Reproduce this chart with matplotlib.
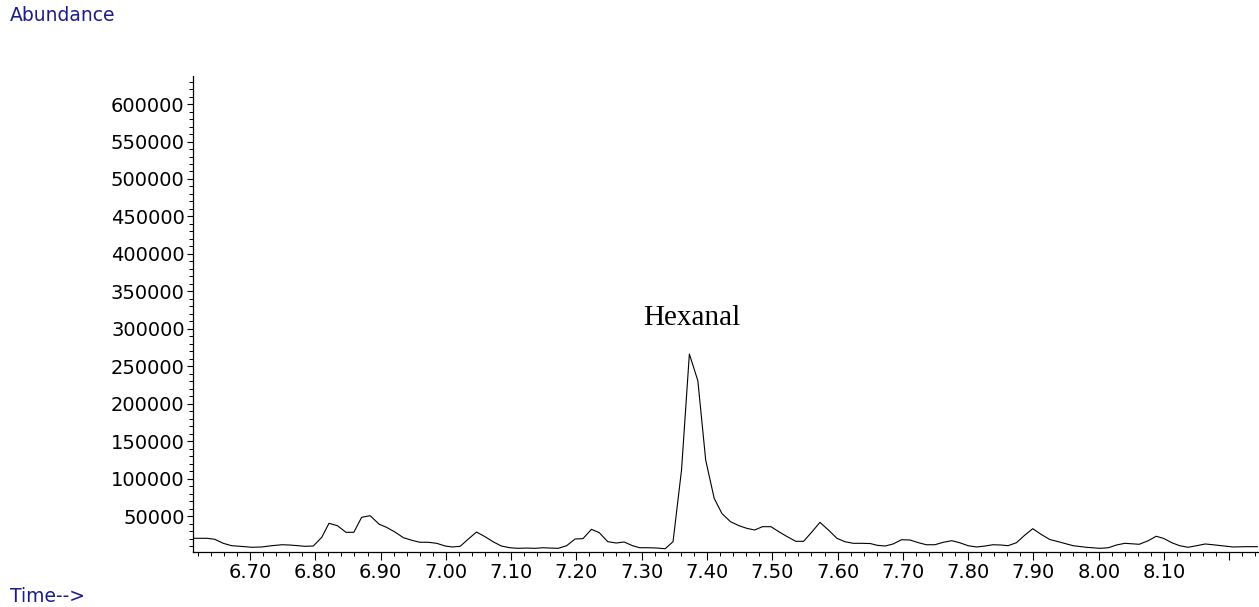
import matplotlib
matplotlib.use("Agg")
import matplotlib.pyplot as plt
from matplotlib.ticker import MultipleLocator, FixedLocator

# retention time (min) and abundance
time_min = [
    6.613, 6.634, 6.646, 6.659, 6.672, 6.685, 6.703, 6.718, 6.733, 6.749,
    6.761, 6.774, 6.784, 6.797, 6.810, 6.821, 6.834, 6.847, 6.859, 6.871,
    6.884, 6.898, 6.909, 6.922, 6.935, 6.948, 6.960, 6.973, 6.986, 6.999,
    7.010, 7.022, 7.034, 7.047, 7.060, 7.073, 7.085, 7.098, 7.111, 7.124,
    7.136, 7.149, 7.159, 7.172, 7.185, 7.198, 7.210, 7.223, 7.235, 7.248,
    7.261, 7.273, 7.286, 7.297, 7.310, 7.323, 7.336, 7.348, 7.361, 7.373,
    7.386, 7.398, 7.411, 7.423, 7.436, 7.449, 7.461, 7.473, 7.485, 7.498,
    7.510, 7.523, 7.536, 7.548, 7.561, 7.573, 7.586, 7.599, 7.611, 7.624,
    7.637, 7.650, 7.661, 7.673, 7.685, 7.698, 7.711, 7.724, 7.736, 7.749,
    7.762, 7.775, 7.787, 7.800, 7.813, 7.826, 7.838, 7.851, 7.861, 7.874,
    7.887, 7.899, 7.911, 7.925, 7.938, 7.951, 7.961, 7.981, 8.002, 8.015,
    8.027, 8.040, 8.062, 8.076, 8.088, 8.099, 8.112, 8.124, 8.137, 8.150,
    8.163, 8.175, 8.188, 8.206, 8.224, 8.243,
]
abundance = [
    20300, 20300, 19000, 13600, 10400, 9600, 8300, 8700, 10400, 11700,
    11300, 10400, 9600, 10000, 21700, 40300, 37100, 28300, 28300, 48300,
    50500, 39000, 35000, 28700, 21100, 17600, 15000, 15000, 13600, 10000,
    8700, 9600, 19000, 28700, 22400, 15400, 10000, 7700, 6900, 7300,
    6900, 7700, 7300, 6900, 10400, 19400, 19800, 32300, 27800, 15800,
    14000, 15400, 10400, 7700, 7700, 7300, 6400, 15800, 111500, 266300,
    230700, 124800, 73700, 53200, 42500, 37100, 33600, 31400, 35800, 35800,
    29100, 22400, 16300, 16300, 29100, 41600, 31400, 20300, 15800, 13600,
    13600, 13300, 10900, 10000, 12700, 18400, 18000, 14400, 11700, 11700,
    15000, 17100, 14400, 10400, 8700, 10000, 11700, 11300, 10400, 14400,
    24700, 33100, 26000, 18700, 15800, 12700, 10400, 8300, 6900, 7700,
    11300, 13600, 12300, 17100, 23000, 20300, 14400, 10400, 8300, 10400,
    12700, 11700, 10400, 8700, 9100, 9100,
]

x_ticks = [6.70, 6.80, 6.90, 7.00, 7.10, 7.20, 7.30, 7.40, 7.50, 7.60,
           7.70, 7.80, 7.90, 8.00, 8.10, 8.20]
x_labels = ["6.70", "6.80", "6.90", "7.00", "7.10", "7.20", "7.30", "7.40",
            "7.50", "7.60", "7.70", "7.80", "7.90", "8.00", "8.10", ""]
y_ticks = [50000, 100000, 150000, 200000, 250000, 300000, 350000, 400000,
           450000, 500000, 550000, 600000]

peak_name = "Hexanal"
peak_time = 7.377
peak_label_y = 314000

navy = "#1c1c8a"

fig = plt.figure(figsize=(12.59, 6.07), dpi=100)
ax = fig.add_axes([0.1533, 0.0911, 0.8459, 0.7837])

ax.plot(time_min, abundance, color="black", linewidth=0.8)

ax.set_xlim(6.6127, 8.244)
ax.set_ylim(2400, 637500)

for side in ("top", "right"):
    ax.spines[side].set_visible(False)
for side in ("left", "bottom"):
    ax.spines[side].set_linewidth(0.9)

ax.xaxis.set_major_locator(FixedLocator(x_ticks))
ax.set_xticklabels(x_labels)
ax.xaxis.set_minor_locator(MultipleLocator(0.02))
ax.yaxis.set_major_locator(FixedLocator(y_ticks))
ax.yaxis.set_minor_locator(MultipleLocator(10000))
ax.set_yticklabels([str(v) for v in y_ticks])

ax.tick_params(axis="both", which="major", direction="out", length=6,
               width=0.8, labelsize=14, pad=2)
ax.tick_params(axis="both", which="minor", direction="out", length=3,
               width=0.7)
ax.tick_params(axis="y", which="major", length=4)
for lab in ax.get_xticklabels() + ax.get_yticklabels():
    lab.set_family("DejaVu Sans")

ax.text(peak_time, peak_label_y, peak_name, ha="center", va="center",
        fontsize=21, family="Liberation Serif")

fig.text(0.008, 0.975, "Abundance", color=navy, fontsize=13.5,
         family="DejaVu Sans", ha="left", va="center")
fig.text(0.008, 0.018, "Time-->", color=navy, fontsize=13.5,
         family="DejaVu Sans", ha="left", va="center")

fig.savefig("out.png", dpi=100)
